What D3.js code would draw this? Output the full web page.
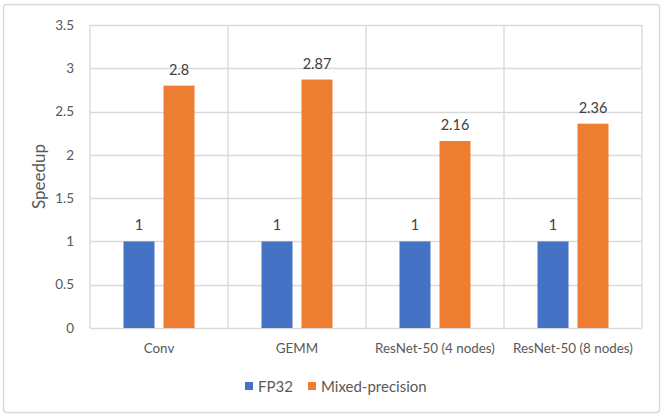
<!DOCTYPE html>
<html>
<head>
<meta charset="utf-8">
<title>Speedup chart</title>
<script src="https://d3js.org/d3.v7.min.js"></script>
<style>
  body { margin: 0; background: #fff; }
  text { font-family: Lato, "Open Sans", sans-serif; }
</style>
</head>
<body>
<svg id="chart" width="664" height="415"></svg>
<script>
// data
var categories = ["Conv", "GEMM", "ResNet-50 (4 nodes)", "ResNet-50 (8 nodes)"];
var seriesNames = ["FP32", "Mixed-precision"];
var fp32 = [1, 1, 1, 1];
var mixed = [2.8, 2.87, 2.16, 2.36];
var yTicks = [0, 0.5, 1, 1.5, 2, 2.5, 3, 3.5];
var colors = ["#4472C4", "#ED7D31"];

var svg = d3.select("#chart");

// outer frame
svg.append("rect")
  .attr("x", 3.5).attr("y", 4.5)
  .attr("width", 656).attr("height", 408)
  .attr("rx", 3)
  .attr("style", "fill:#fff; stroke:#d9d9d9; stroke-width:1.5");

// plot box (note: "top" is taken by window.top, so use plot* names)
var plotL = 90, plotR = 642, plotT = 25, plotB = 328;

var x0 = d3.scaleBand()
  .domain(categories)
  .range([plotL, plotR]);

var x1 = d3.scaleBand()
  .domain(seriesNames)
  .range([33.5, 104.5])
  .paddingInner(0.225);

var y = d3.scaleLinear()
  .domain([0, 3.5])
  .range([plotB, plotT]);

// horizontal grid
svg.selectAll(".hgrid")
  .data(yTicks)
  .enter().append("line")
  .attr("class", "hgrid")
  .attr("x1", plotL).attr("x2", plotR)
  .attr("y1", function(d) { return Math.round(y(d)) + 0.5; })
  .attr("y2", function(d) { return Math.round(y(d)) + 0.5; })
  .attr("style", "stroke:#d9d9d9; stroke-width:1.3");

// vertical dividers between categories
var edges = categories.map(function(c) { return x0(c); }).concat([plotR]);
svg.selectAll(".vgrid")
  .data(edges)
  .enter().append("line")
  .attr("class", "vgrid")
  .attr("x1", function(d) { return d; }).attr("x2", function(d) { return d; })
  .attr("y1", plotT).attr("y2", plotB)
  .attr("style", "stroke:#d9d9d9; stroke-width:1.3");

// y tick labels
svg.selectAll(".ytick")
  .data(yTicks)
  .enter().append("text")
  .attr("class", "ytick")
  .attr("x", 74)
  .attr("y", function(d) { return y(d); })
  .attr("dy", "0.35em")
  .attr("text-anchor", "end")
  .attr("style", "font-size:13.5px; fill:#595959")
  .text(function(d) { return d; });

// y title
svg.append("text")
  .attr("transform", "translate(45," + ((plotT + plotB) / 2) + ") rotate(-90)")
  .attr("text-anchor", "middle")
  .attr("style", "font-size:17px; fill:#595959")
  .text("Speedup");

// bars
var rows = categories.map(function(c, i) {
  return { cat: c, vals: [fp32[i], mixed[i]] };
});

var groups = svg.selectAll(".grp")
  .data(rows)
  .enter().append("g")
  .attr("class", "grp")
  .attr("transform", function(d) { return "translate(" + x0(d.cat) + ",0)"; });

groups.selectAll("rect")
  .data(function(d) { return d.vals.map(function(v, j) { return { s: seriesNames[j], v: v, j: j }; }); })
  .enter().append("rect")
  .attr("x", function(d) { return x1(d.s); })
  .attr("y", function(d) { return y(d.v); })
  .attr("width", x1.bandwidth())
  .attr("height", function(d) { return y(0) - y(d.v); })
  .attr("fill", function(d) { return colors[d.j]; });

groups.selectAll(".lbl")
  .data(function(d) { return d.vals.map(function(v, j) { return { s: seriesNames[j], v: v }; }); })
  .enter().append("text")
  .attr("class", "lbl")
  .attr("x", function(d) { return x1(d.s) + x1.bandwidth() / 2; })
  .attr("y", function(d) { return y(d.v) - 11; })
  .attr("text-anchor", "middle")
  .attr("style", "font-size:14.5px; fill:#404040")
  .text(function(d) { return d.v; });

// category labels
svg.selectAll(".xcat")
  .data(categories)
  .enter().append("text")
  .attr("class", "xcat")
  .attr("x", function(d) { return x0(d) + x0.bandwidth() / 2; })
  .attr("y", 353)
  .attr("text-anchor", "middle")
  .attr("style", "font-size:13.4px; fill:#595959")
  .text(function(d) { return d; });

// legend
var legX = [245, 308];
seriesNames.forEach(function(s, i) {
  svg.append("rect")
    .attr("x", legX[i]).attr("y", 382)
    .attr("width", 8).attr("height", 8)
    .attr("fill", colors[i]);
  svg.append("text")
    .attr("x", legX[i] + 13).attr("y", 391.5)
    .attr("style", "font-size:15px; fill:#595959")
    .text(s);
});
</script>
</body>
</html>
